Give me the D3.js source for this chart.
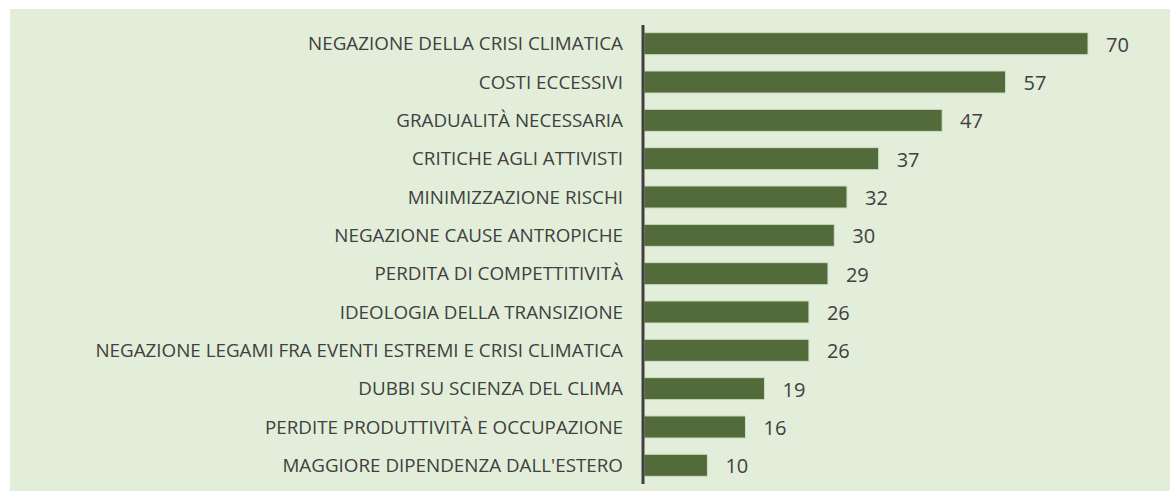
<!DOCTYPE html>
<html>
<head>
<meta charset="utf-8">
<script src="https://cdn.jsdelivr.net/npm/d3@7"></script>
<style>
  body { margin: 0; background: #ffffff; }
  svg { display: block; }
</style>
</head>
<body>
<div id="chart"></div>
<script>
var categories = [
  "NEGAZIONE DELLA CRISI CLIMATICA",
  "COSTI ECCESSIVI",
  "GRADUALITÀ NECESSARIA",
  "CRITICHE AGLI ATTIVISTI",
  "MINIMIZZAZIONE RISCHI",
  "NEGAZIONE CAUSE ANTROPICHE",
  "PERDITA DI COMPETTITIVITÀ",
  "IDEOLOGIA DELLA TRANSIZIONE",
  "NEGAZIONE LEGAMI FRA EVENTI ESTREMI E CRISI CLIMATICA",
  "DUBBI SU SCIENZA DEL CLIMA",
  "PERDITE PRODUTTIVITÀ E OCCUPAZIONE",
  "MAGGIORE DIPENDENZA DALL'ESTERO"
];
var values = [70, 57, 47, 37, 32, 30, 29, 26, 26, 19, 16, 10];

var width = 1170, height = 491;

var svg = d3.select("#chart").append("svg")
  .attr("width", width)
  .attr("height", height);

// panel background
svg.append("rect")
  .attr("x", 10).attr("y", 9)
  .attr("width", width - 10).attr("height", height - 9)
  .attr("fill", "#e2eed9");

var x = d3.scaleLinear().domain([0, 70]).range([644, 1088]);
var y = d3.scaleBand()
  .domain(categories)
  .range([25, 484])
  .paddingInner(0.425)
  .paddingOuter(0.2);

var data = categories.map(function(c, i) {
  return { name: c, value: values[i] };
});

svg.append("g").selectAll("rect")
  .data(data)
  .enter().append("rect")
  .attr("x", x(0))
  .attr("y", function(d) { return y(d.name); })
  .attr("width", function(d) { return x(d.value) - x(0); })
  .attr("height", y.bandwidth())
  .attr("fill", "#536b3b")
  .attr("stroke", "#cfdec3")
  .attr("stroke-width", 1);

// value labels
svg.append("g").selectAll("text")
  .data(data)
  .enter().append("text")
  .attr("x", function(d) { return x(d.value) + 18; })
  .attr("y", function(d) { return y(d.name) + y.bandwidth() / 2 + 1; })
  .attr("dy", "0.35em")
  .attr("font-family", "'Open Sans', sans-serif")
  .attr("font-size", 20)
  .attr("fill", "#404040")
  .text(function(d) { return d.value; });

// category labels, sized so the longest one fits the reference width
var labels = svg.append("g").selectAll("text")
  .data(data)
  .enter().append("text")
  .attr("x", 623)
  .attr("y", function(d) { return y(d.name) + y.bandwidth() / 2; })
  .attr("dy", "0.35em")
  .attr("text-anchor", "end")
  .attr("font-family", "'Open Sans', sans-serif")
  .attr("font-size", 100)
  .attr("fill", "#404040")
  .text(function(d) { return d.name; });

var longest = d3.max(labels.nodes(), function(n) { return n.getComputedTextLength(); });
var fs = 100 * 528 / longest;
labels.attr("font-size", fs);

// vertical axis line
svg.append("line")
  .attr("x1", 643).attr("x2", 643)
  .attr("y1", 25).attr("y2", 484)
  .attr("stroke", "#404040")
  .attr("stroke-width", 3);
</script>
</body>
</html>
